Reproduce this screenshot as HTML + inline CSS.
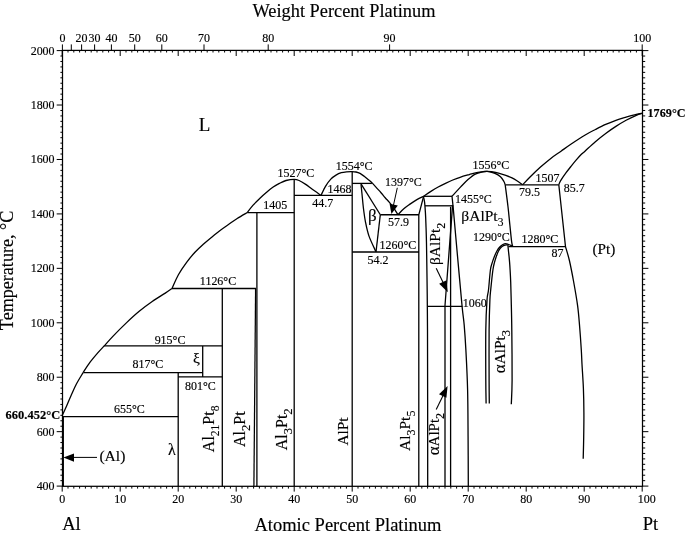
<!DOCTYPE html>
<html><head><meta charset="utf-8"><style>
html,body{margin:0;padding:0;background:#fff;}
svg{display:block;}
body{filter:grayscale(1);}
text{font-family:"Liberation Serif",serif;fill:#000;stroke:#000;stroke-width:0.15px;}
</style></head><body>
<svg width="685" height="536" viewBox="0 0 685 536">
<g stroke="#000" stroke-linecap="butt" fill="none">
<path d="M56.7 486.1H62.5M642.5 486.1H648.4M60.4 480.66H62.5M642.5 480.66H645.2M60.4 475.21H62.5M642.5 475.21H645.2M60.4 469.77H62.5M642.5 469.77H645.2M60.4 464.32H62.5M642.5 464.32H645.2M60.4 458.88H62.5M642.5 458.88H645.2M60.4 453.44H62.5M642.5 453.44H645.2M60.4 447.99H62.5M642.5 447.99H645.2M60.4 442.55H62.5M642.5 442.55H645.2M60.4 437.11H62.5M642.5 437.11H645.2M56.7 431.66H62.5M642.5 431.66H648.4M60.4 426.22H62.5M642.5 426.22H645.2M60.4 420.77H62.5M642.5 420.77H645.2M60.4 415.33H62.5M642.5 415.33H645.2M60.4 409.89H62.5M642.5 409.89H645.2M60.4 404.44H62.5M642.5 404.44H645.2M60.4 399H62.5M642.5 399H645.2M60.4 393.56H62.5M642.5 393.56H645.2M60.4 388.11H62.5M642.5 388.11H645.2M60.4 382.67H62.5M642.5 382.67H645.2M56.7 377.22H62.5M642.5 377.22H648.4M60.4 371.78H62.5M642.5 371.78H645.2M60.4 366.34H62.5M642.5 366.34H645.2M60.4 360.89H62.5M642.5 360.89H645.2M60.4 355.45H62.5M642.5 355.45H645.2M60.4 350H62.5M642.5 350H645.2M60.4 344.56H62.5M642.5 344.56H645.2M60.4 339.12H62.5M642.5 339.12H645.2M60.4 333.67H62.5M642.5 333.67H645.2M60.4 328.23H62.5M642.5 328.23H645.2M56.7 322.79H62.5M642.5 322.79H648.4M60.4 317.34H62.5M642.5 317.34H645.2M60.4 311.9H62.5M642.5 311.9H645.2M60.4 306.45H62.5M642.5 306.45H645.2M60.4 301.01H62.5M642.5 301.01H645.2M60.4 295.57H62.5M642.5 295.57H645.2M60.4 290.12H62.5M642.5 290.12H645.2M60.4 284.68H62.5M642.5 284.68H645.2M60.4 279.24H62.5M642.5 279.24H645.2M60.4 273.79H62.5M642.5 273.79H645.2M56.7 268.35H62.5M642.5 268.35H648.4M60.4 262.9H62.5M642.5 262.9H645.2M60.4 257.46H62.5M642.5 257.46H645.2M60.4 252.02H62.5M642.5 252.02H645.2M60.4 246.57H62.5M642.5 246.57H645.2M60.4 241.13H62.5M642.5 241.13H645.2M60.4 235.69H62.5M642.5 235.69H645.2M60.4 230.24H62.5M642.5 230.24H645.2M60.4 224.8H62.5M642.5 224.8H645.2M60.4 219.35H62.5M642.5 219.35H645.2M56.7 213.91H62.5M642.5 213.91H648.4M60.4 208.47H62.5M642.5 208.47H645.2M60.4 203.02H62.5M642.5 203.02H645.2M60.4 197.58H62.5M642.5 197.58H645.2M60.4 192.13H62.5M642.5 192.13H645.2M60.4 186.69H62.5M642.5 186.69H645.2M60.4 181.25H62.5M642.5 181.25H645.2M60.4 175.8H62.5M642.5 175.8H645.2M60.4 170.36H62.5M642.5 170.36H645.2M60.4 164.92H62.5M642.5 164.92H645.2M56.7 159.47H62.5M642.5 159.47H648.4M60.4 154.03H62.5M642.5 154.03H645.2M60.4 148.58H62.5M642.5 148.58H645.2M60.4 143.14H62.5M642.5 143.14H645.2M60.4 137.7H62.5M642.5 137.7H645.2M60.4 132.25H62.5M642.5 132.25H645.2M60.4 126.81H62.5M642.5 126.81H645.2M60.4 121.37H62.5M642.5 121.37H645.2M60.4 115.92H62.5M642.5 115.92H645.2M60.4 110.48H62.5M642.5 110.48H645.2M56.7 105.03H62.5M642.5 105.03H648.4M60.4 99.59H62.5M642.5 99.59H645.2M60.4 94.15H62.5M642.5 94.15H645.2M60.4 88.7H62.5M642.5 88.7H645.2M60.4 83.26H62.5M642.5 83.26H645.2M60.4 77.82H62.5M642.5 77.82H645.2M60.4 72.37H62.5M642.5 72.37H645.2M60.4 66.93H62.5M642.5 66.93H645.2M60.4 61.48H62.5M642.5 61.48H645.2M60.4 56.04H62.5M642.5 56.04H645.2M56.7 50.6H62.5M642.5 50.6H648.4M62.2 486.3V491.6M62.2 50.4V56M68 486.3V488.6M68 50.4V52.5M73.8 486.3V488.6M73.8 50.4V52.5M79.6 486.3V488.6M79.6 50.4V52.5M85.4 486.3V488.6M85.4 50.4V52.5M91.2 486.3V488.6M91.2 50.4V52.5M97 486.3V488.6M97 50.4V52.5M102.8 486.3V488.6M102.8 50.4V52.5M108.6 486.3V488.6M108.6 50.4V52.5M114.4 486.3V488.6M114.4 50.4V52.5M120.2 486.3V491.6M120.2 50.4V56M126 486.3V488.6M126 50.4V52.5M131.8 486.3V488.6M131.8 50.4V52.5M137.6 486.3V488.6M137.6 50.4V52.5M143.4 486.3V488.6M143.4 50.4V52.5M149.2 486.3V488.6M149.2 50.4V52.5M155 486.3V488.6M155 50.4V52.5M160.8 486.3V488.6M160.8 50.4V52.5M166.6 486.3V488.6M166.6 50.4V52.5M172.4 486.3V488.6M172.4 50.4V52.5M178.2 486.3V491.6M178.2 50.4V56M184 486.3V488.6M184 50.4V52.5M189.8 486.3V488.6M189.8 50.4V52.5M195.6 486.3V488.6M195.6 50.4V52.5M201.4 486.3V488.6M201.4 50.4V52.5M207.2 486.3V488.6M207.2 50.4V52.5M213 486.3V488.6M213 50.4V52.5M218.8 486.3V488.6M218.8 50.4V52.5M224.6 486.3V488.6M224.6 50.4V52.5M230.4 486.3V488.6M230.4 50.4V52.5M236.2 486.3V491.6M236.2 50.4V56M242 486.3V488.6M242 50.4V52.5M247.8 486.3V488.6M247.8 50.4V52.5M253.6 486.3V488.6M253.6 50.4V52.5M259.4 486.3V488.6M259.4 50.4V52.5M265.2 486.3V488.6M265.2 50.4V52.5M271 486.3V488.6M271 50.4V52.5M276.8 486.3V488.6M276.8 50.4V52.5M282.6 486.3V488.6M282.6 50.4V52.5M288.4 486.3V488.6M288.4 50.4V52.5M294.2 486.3V491.6M294.2 50.4V56M300 486.3V488.6M300 50.4V52.5M305.8 486.3V488.6M305.8 50.4V52.5M311.6 486.3V488.6M311.6 50.4V52.5M317.4 486.3V488.6M317.4 50.4V52.5M323.2 486.3V488.6M323.2 50.4V52.5M329 486.3V488.6M329 50.4V52.5M334.8 486.3V488.6M334.8 50.4V52.5M340.6 486.3V488.6M340.6 50.4V52.5M346.4 486.3V488.6M346.4 50.4V52.5M352.2 486.3V491.6M352.2 50.4V56M358 486.3V488.6M358 50.4V52.5M363.8 486.3V488.6M363.8 50.4V52.5M369.6 486.3V488.6M369.6 50.4V52.5M375.4 486.3V488.6M375.4 50.4V52.5M381.2 486.3V488.6M381.2 50.4V52.5M387 486.3V488.6M387 50.4V52.5M392.8 486.3V488.6M392.8 50.4V52.5M398.6 486.3V488.6M398.6 50.4V52.5M404.4 486.3V488.6M404.4 50.4V52.5M410.2 486.3V491.6M410.2 50.4V56M416 486.3V488.6M416 50.4V52.5M421.8 486.3V488.6M421.8 50.4V52.5M427.6 486.3V488.6M427.6 50.4V52.5M433.4 486.3V488.6M433.4 50.4V52.5M439.2 486.3V488.6M439.2 50.4V52.5M445 486.3V488.6M445 50.4V52.5M450.8 486.3V488.6M450.8 50.4V52.5M456.6 486.3V488.6M456.6 50.4V52.5M462.4 486.3V488.6M462.4 50.4V52.5M468.2 486.3V491.6M468.2 50.4V56M474 486.3V488.6M474 50.4V52.5M479.8 486.3V488.6M479.8 50.4V52.5M485.6 486.3V488.6M485.6 50.4V52.5M491.4 486.3V488.6M491.4 50.4V52.5M497.2 486.3V488.6M497.2 50.4V52.5M503 486.3V488.6M503 50.4V52.5M508.8 486.3V488.6M508.8 50.4V52.5M514.6 486.3V488.6M514.6 50.4V52.5M520.4 486.3V488.6M520.4 50.4V52.5M526.2 486.3V491.6M526.2 50.4V56M532 486.3V488.6M532 50.4V52.5M537.8 486.3V488.6M537.8 50.4V52.5M543.6 486.3V488.6M543.6 50.4V52.5M549.4 486.3V488.6M549.4 50.4V52.5M555.2 486.3V488.6M555.2 50.4V52.5M561 486.3V488.6M561 50.4V52.5M566.8 486.3V488.6M566.8 50.4V52.5M572.6 486.3V488.6M572.6 50.4V52.5M578.4 486.3V488.6M578.4 50.4V52.5M584.2 486.3V491.6M584.2 50.4V56M590 486.3V488.6M590 50.4V52.5M595.8 486.3V488.6M595.8 50.4V52.5M601.6 486.3V488.6M601.6 50.4V52.5M607.4 486.3V488.6M607.4 50.4V52.5M613.2 486.3V488.6M613.2 50.4V52.5M619 486.3V488.6M619 50.4V52.5M624.8 486.3V488.6M624.8 50.4V52.5M630.6 486.3V488.6M630.6 50.4V52.5M636.4 486.3V488.6M636.4 50.4V52.5M642.2 486.3V491.6M642.2 50.4V56M62.4 50.4V44.4M71.3 50.4V44.4M81.6 50.4V44.4M94.6 50.4V44.4M111.4 50.4V44.4M134.7 50.4V44.4M161.8 50.4V44.4M204 50.4V44.4M268.2 50.4V44.4M389.6 50.4V44.4M642.2 50.4V44.4" stroke-width="1.0" fill="none"/>
<rect x="62.5" y="50.4" width="580" height="435.9" fill="none" stroke-width="1.25"/>
<line x1="63.3" y1="416.69" x2="63.3" y2="486.3" stroke-width="1.3"/>
<path d="M62.4 415.21 C63.12 413.62 65.23 409.03 66.7 405.7 C68.17 402.37 69.58 398.82 71.2 395.2 C72.82 391.58 74.42 387.77 76.4 384 C78.38 380.23 81.98 374.5 83.1 372.6" stroke-width="1.3" fill="none"/>
<path d="M83.1 372.6 C84.23 370.9 87.53 365.6 89.9 362.4 C92.27 359.2 94.92 356.15 97.3 353.4 C99.68 350.65 103.05 347.17 104.2 345.92" stroke-width="1.3" fill="none"/>
<path d="M104.2 345.92 C105.68 344.29 109.45 339.9 113.1 336.1 C116.75 332.3 121.75 327.23 126.1 323.1 C130.45 318.97 134.85 314.9 139.2 311.3 C143.55 307.7 147.85 304.53 152.2 301.5 C156.55 298.47 162 295.27 165.3 293.1 C168.6 290.93 170.88 289.26 172 288.49" stroke-width="1.3" fill="none"/>
<path d="M172 288.49 C173.07 286.19 175.93 279.1 178.4 274.7 C180.87 270.3 184 265.88 186.8 262.1 C189.6 258.32 192.4 255.02 195.2 252 C198 248.98 200.8 246.52 203.6 244 C206.4 241.48 209.2 239.2 212 236.9 C214.8 234.6 217.6 232.3 220.4 230.2 C223.2 228.1 226 226.25 228.8 224.3 C231.6 222.35 234.13 220.46 237.2 218.5 C240.27 216.54 245.53 213.54 247.2 212.55" stroke-width="1.3" fill="none"/>
<path d="M247.2 212.55 C248.18 211.31 251.02 207.44 253.1 205.1 C255.18 202.76 257.5 200.58 259.7 198.5 C261.9 196.42 264.12 194.47 266.3 192.6 C268.48 190.73 270.62 188.83 272.8 187.3 C274.98 185.77 277.2 184.53 279.4 183.4 C281.6 182.27 283.53 181.18 286 180.5 C288.47 179.82 292.02 179.3 294.2 179.3 C296.38 179.3 297.18 179.65 299.1 180.5 C301.02 181.35 303.5 182.93 305.7 184.4 C307.9 185.87 309.75 187.47 312.3 189.3 C314.85 191.13 319.55 194.38 321 195.4" stroke-width="1.3" fill="none"/>
<path d="M321 195.4 C321.75 193.88 323.87 189.02 325.5 186.3 C327.13 183.58 329.05 180.97 330.8 179.1 C332.55 177.23 334.25 176.17 336 175.1 C337.75 174.03 339.55 173.25 341.3 172.7 C343.05 172.15 344.68 171.98 346.5 171.8 C348.32 171.62 350.62 171.57 352.2 171.6 C353.78 171.63 354.7 171.7 356 172 C357.3 172.3 358.63 172.68 360 173.4 C361.37 174.12 362.8 175.25 364.2 176.3 C365.6 177.35 367 178.52 368.4 179.7 C369.8 180.88 371.2 182 372.6 183.4 C374 184.8 375.4 186.55 376.8 188.1 C378.2 189.65 379.6 191.1 381 192.7 C382.4 194.3 383.8 196.08 385.2 197.7 C386.6 199.32 388.02 200.75 389.4 202.4 C390.78 204.05 392.07 205.55 393.5 207.6 C394.93 209.65 397.25 213.54 398 214.73" stroke-width="1.3" fill="none"/>
<path d="M398 214.73 C398.97 213.74 401.87 210.52 403.8 208.8 C405.73 207.08 407.42 205.93 409.6 204.4 C411.78 202.87 414.57 200.95 416.9 199.6 C419.23 198.25 422.48 196.85 423.6 196.3" stroke-width="1.3" fill="none"/>
<path d="M423.6 196.2 C424.82 195.4 428.47 192.93 430.9 191.4 C433.33 189.87 435.77 188.35 438.2 187 C440.63 185.65 443.07 184.47 445.5 183.3 C447.93 182.13 450.37 181 452.8 180 C455.23 179 457.35 178.2 460.1 177.3 C462.85 176.4 466.55 175.38 469.3 174.6 C472.05 173.82 474.17 173.12 476.6 172.6 C479.03 172.08 482.08 171.72 483.9 171.5 C485.72 171.28 486.28 171.27 487.5 171.3 C488.72 171.33 489.37 171.4 491.2 171.7 C493.03 172 496.07 172.48 498.5 173.1 C500.93 173.72 503.55 174.6 505.8 175.4 C508.05 176.2 510.08 176.97 512 177.9 C513.92 178.83 515.53 179.85 517.3 181 C519.07 182.15 521.72 184.15 522.6 184.79" stroke-width="1.3" fill="none"/>
<path d="M522.6 184.79 C523.88 183.45 527.32 179.75 530.3 176.8 C533.28 173.85 537.08 170.17 540.5 167.1 C543.92 164.03 547.38 161.05 550.8 158.4 C554.22 155.75 557.6 153.6 561 151.2 C564.4 148.8 567.17 146.7 571.2 144 C575.23 141.3 581.17 137.42 585.2 135 C589.23 132.58 591.98 131.27 595.4 129.5 C598.82 127.73 602.28 125.93 605.7 124.4 C609.12 122.87 612.5 121.5 615.9 120.3 C619.3 119.1 622.7 118.18 626.1 117.2 C629.5 116.22 633.62 115.05 636.3 114.4 C638.98 113.75 641.22 113.48 642.2 113.3" stroke-width="1.3" fill="none"/>
<path d="M558.8 184.79 C559.08 184.14 559.28 182.91 560.5 180.9 C561.72 178.89 564.32 175.17 566.1 172.7 C567.88 170.23 569.5 168.23 571.2 166.1 C572.9 163.97 574.6 161.87 576.3 159.9 C578 157.93 579.92 155.8 581.4 154.3 C582.88 152.8 582.87 153 585.2 150.9 C587.53 148.8 591.98 144.6 595.4 141.7 C598.82 138.8 602.28 136.05 605.7 133.5 C609.12 130.95 612.5 128.6 615.9 126.4 C619.3 124.2 622.7 122.15 626.1 120.3 C629.5 118.45 633.62 116.47 636.3 115.3 C638.98 114.13 641.22 113.63 642.2 113.3" stroke-width="1.3" fill="none"/>
<line x1="62.2" y1="416.69" x2="178.2" y2="416.69" stroke-width="1.3"/>
<line x1="83.5" y1="372.6" x2="202.7" y2="372.6" stroke-width="1.3"/>
<line x1="103.9" y1="345.92" x2="222.3" y2="345.92" stroke-width="1.3"/>
<line x1="178.2" y1="376.95" x2="222.3" y2="376.95" stroke-width="1.3"/>
<line x1="172" y1="288.49" x2="256" y2="288.49" stroke-width="1.3"/>
<line x1="247.3" y1="212.55" x2="294.2" y2="212.55" stroke-width="1.3"/>
<line x1="294.2" y1="195.4" x2="352.2" y2="195.4" stroke-width="1.3"/>
<line x1="352.2" y1="183.4" x2="371.9" y2="183.4" stroke-width="1.3"/>
<line x1="380.3" y1="214.73" x2="419" y2="214.73" stroke-width="1.3"/>
<line x1="352.2" y1="252.02" x2="419" y2="252.02" stroke-width="1.3"/>
<line x1="423.4" y1="196.3" x2="452" y2="196.3" stroke-width="1.3"/>
<line x1="425" y1="205.8" x2="453" y2="205.8" stroke-width="1.3"/>
<line x1="427.6" y1="306.45" x2="462.4" y2="306.45" stroke-width="1.3"/>
<line x1="505.2" y1="184.79" x2="558.8" y2="184.79" stroke-width="1.3"/>
<line x1="508.4" y1="246.57" x2="565.5" y2="246.57" stroke-width="1.3"/>
<line x1="178.2" y1="372.6" x2="178.2" y2="486.3" stroke-width="1.3"/>
<line x1="202.7" y1="345.92" x2="202.7" y2="376.95" stroke-width="1.3"/>
<line x1="222.3" y1="288.49" x2="222.3" y2="486.3" stroke-width="1.3"/>
<line x1="256.9" y1="212.55" x2="256.9" y2="486.3" stroke-width="1.3"/>
<line x1="255.6" y1="288.49" x2="253.9" y2="486.3" stroke-width="1.25"/>
<line x1="294.2" y1="179.34" x2="294.2" y2="486.3" stroke-width="1.3"/>
<line x1="352.2" y1="171.99" x2="352.2" y2="486.3" stroke-width="1.3"/>
<path d="M361 184.3 C361.17 185.92 361.6 190.05 362 194 C362.4 197.95 362.82 203.32 363.4 208 C363.98 212.68 364.57 217.42 365.5 222.1 C366.43 226.78 367.27 231.18 369 236.1 C370.73 241.02 374.75 249.02 375.9 251.6" stroke-width="1.3" fill="none"/>
<line x1="361.2" y1="184.2" x2="380.3" y2="214.73" stroke-width="1.3"/>
<line x1="380.3" y1="214.73" x2="376" y2="252.02" stroke-width="1.3"/>
<path d="M423.6 196.3 L418.8 214.73 L418.8 486.3" stroke-width="1.3" fill="none"/>
<path d="M423.4 196.3 C423.6 197.3 424.27 199.62 424.6 202.3 C424.93 204.98 425.18 208.85 425.4 212.4 C425.62 215.95 425.7 217.33 425.9 223.6 C426.1 229.87 426.33 232.27 426.6 250 C426.87 267.73 427.32 290.62 427.5 330 C427.68 369.38 427.67 460.25 427.7 486.3" stroke-width="1.3" fill="none"/>
<line x1="452" y1="196.3" x2="453" y2="205.8" stroke-width="1.3"/>
<path d="M452.6 205.4 L445.0 305.4 L445.0 486.3" stroke-width="1.3" fill="none"/>
<line x1="450.6" y1="206.8" x2="450.6" y2="486.3" stroke-width="1.3"/>
<path d="M453 205.4 C453.75 213.83 455.98 239.16 457.5 256 C459.02 272.84 460.98 294.94 462.1 306.45 C463.22 317.97 463.57 317.79 464.2 325.1 C464.83 332.41 465.33 339.52 465.9 350.3 C466.47 361.08 467.23 374.85 467.6 389.8 C467.97 404.75 467.98 423.92 468.1 440 C468.22 456.08 468.27 478.58 468.3 486.3" stroke-width="1.3" fill="none"/>
<path d="M452 196.3 C453.45 194.73 458.03 189.68 460.7 186.9 C463.37 184.12 465.57 181.73 468 179.6 C470.43 177.47 472.87 175.38 475.3 174.1 C477.73 172.82 480.57 172.35 482.6 171.9 C484.63 171.45 486.68 171.48 487.5 171.4" stroke-width="1.3" fill="none"/>
<path d="M487.5 171.4 C488.73 171.73 492.73 172.5 494.9 173.4 C497.07 174.3 499 175.45 500.5 176.8 C502 178.15 503.12 180.17 503.9 181.5 C504.68 182.83 504.98 184.24 505.2 184.79" stroke-width="1.3" fill="none"/>
<path d="M505.2 184.79 C505.67 188.44 507.22 199.95 508 206.7 C508.78 213.45 509.28 219.38 509.9 225.3 C510.52 231.22 511.22 238.65 511.7 242.2 C512.18 245.75 512.62 245.84 512.8 246.57" stroke-width="1.3" fill="none"/>
<path d="M486.1 403.4 C486.05 399.5 485.85 392.23 485.8 380 C485.75 367.77 485.6 343.33 485.8 330 C486 316.67 486.55 306.67 487 300 C487.45 293.33 487.93 295 488.5 290 C489.07 285 489.77 274.6 490.4 270 C491.03 265.4 491.62 264.7 492.3 262.4 C492.98 260.1 493.75 258.07 494.5 256.2 C495.25 254.33 495.97 252.68 496.8 251.2 C497.63 249.72 498.48 248.42 499.5 247.3 C500.52 246.18 501.87 245.12 502.9 244.5 C503.93 243.88 504.77 243.6 505.7 243.6 C506.63 243.6 507.57 244.17 508.5 244.5 C509.43 244.83 510.58 245.28 511.3 245.6 C512.02 245.92 512.55 246.27 512.8 246.4" stroke-width="1.3" fill="none"/>
<path d="M489.3 403.4 C489.27 399.5 489.13 392.23 489.1 380 C489.07 367.77 488.97 343.33 489.1 330 C489.23 316.67 489.63 306.67 489.9 300 C490.17 293.33 490.2 295 490.7 290 C491.2 285 492.27 274.6 492.9 270 C493.53 265.4 493.95 264.6 494.5 262.4 C495.05 260.2 495.55 258.67 496.2 256.8 C496.85 254.93 497.65 252.7 498.4 251.2 C499.15 249.7 499.85 248.73 500.7 247.8 C501.55 246.87 502.48 246.1 503.5 245.6 C504.52 245.1 505.97 244.83 506.8 244.8 C507.63 244.77 508.22 245.3 508.5 245.4" stroke-width="1.3" fill="none"/>
<path d="M507.9 245.4 C508 246.37 508.3 249.3 508.5 251.2 C508.7 253.1 508.92 254.93 509.1 256.8 C509.28 258.67 509.43 260.2 509.6 262.4 C509.77 264.6 509.92 266.73 510.1 270 C510.28 273.27 510.52 277 510.7 282 C510.88 287 511.02 292 511.2 300 C511.38 308 511.65 316.67 511.8 330 C511.95 343.33 512.18 367.63 512.1 380 C512.02 392.37 511.43 400.17 511.3 404.2" stroke-width="1.3" fill="none"/>
<path d="M558.8 184.79 L565.5 246.57 C566.15 248.89 568.07 254.76 569.4 260.5 C570.73 266.24 572.13 273.48 573.5 281 C574.87 288.52 576.58 298.07 577.6 305.6 C578.62 313.13 578.98 318.8 579.6 326.2 C580.22 333.6 580.9 343.67 581.3 350 C581.7 356.33 581.65 357.78 582 364.2 C582.35 370.62 583.08 380.42 583.4 388.5 C583.72 396.58 583.85 404.62 583.9 412.7 C583.95 420.78 583.82 429.32 583.7 437 C583.58 444.68 583.28 455.17 583.2 458.8" stroke-width="1.3" fill="none"/>
<line x1="72.7" y1="457.4" x2="97" y2="457.4" stroke-width="1"/>
<path d="M63.4 457.6 L74 453.4 L74 461.8 Z" fill="#000" stroke="none"/>
<line x1="397.3" y1="187.8" x2="393.3" y2="206" stroke-width="1"/>
<path d="M391.4 214.0 L389.6 203.8 L397.8 205.6 Z" fill="#000" stroke="none"/>
<line x1="436.2" y1="268.2" x2="443.6" y2="283.5" stroke-width="1.1"/>
<path d="M447.8 292.2 L439.2 283.8 L446.6 280.3 Z" fill="#000" stroke="none"/>
<line x1="436.2" y1="409.6" x2="443.2" y2="395.2" stroke-width="1.1"/>
<path d="M447.6 386.1 L446.4 397.7 L439.0 394.2 Z" fill="#000" stroke="none"/>
</g>
<g>
<text transform="translate(54.6 490.1) scale(1 1.07)" font-size="12" text-anchor="end">400</text>
<text transform="translate(54.6 435.66) scale(1 1.07)" font-size="12" text-anchor="end">600</text>
<text transform="translate(54.6 381.22) scale(1 1.07)" font-size="12" text-anchor="end">800</text>
<text transform="translate(54.6 326.79) scale(1 1.07)" font-size="12" text-anchor="end">1000</text>
<text transform="translate(54.6 272.35) scale(1 1.07)" font-size="12" text-anchor="end">1200</text>
<text transform="translate(54.6 217.91) scale(1 1.07)" font-size="12" text-anchor="end">1400</text>
<text transform="translate(54.6 163.47) scale(1 1.07)" font-size="12" text-anchor="end">1600</text>
<text transform="translate(54.6 109.03) scale(1 1.07)" font-size="12" text-anchor="end">1800</text>
<text transform="translate(54.6 54.6) scale(1 1.07)" font-size="12" text-anchor="end">2000</text>
<text transform="translate(62.2 502.6) scale(1 1.07)" font-size="12" text-anchor="middle">0</text>
<text transform="translate(120.2 502.6) scale(1 1.07)" font-size="12" text-anchor="middle">10</text>
<text transform="translate(178.2 502.6) scale(1 1.07)" font-size="12" text-anchor="middle">20</text>
<text transform="translate(236.2 502.6) scale(1 1.07)" font-size="12" text-anchor="middle">30</text>
<text transform="translate(294.2 502.6) scale(1 1.07)" font-size="12" text-anchor="middle">40</text>
<text transform="translate(352.2 502.6) scale(1 1.07)" font-size="12" text-anchor="middle">50</text>
<text transform="translate(410.2 502.6) scale(1 1.07)" font-size="12" text-anchor="middle">60</text>
<text transform="translate(468.2 502.6) scale(1 1.07)" font-size="12" text-anchor="middle">70</text>
<text transform="translate(526.2 502.6) scale(1 1.07)" font-size="12" text-anchor="middle">80</text>
<text transform="translate(584.2 502.6) scale(1 1.07)" font-size="12" text-anchor="middle">90</text>
<text transform="translate(646.8 502.6) scale(1 1.07)" font-size="12" text-anchor="middle">100</text>
<text transform="translate(62.4 42) scale(1 1.07)" font-size="12" text-anchor="middle">0</text>
<text transform="translate(81.6 42) scale(1 1.07)" font-size="12" text-anchor="middle">20</text>
<text transform="translate(94.6 42) scale(1 1.07)" font-size="12" text-anchor="middle">30</text>
<text transform="translate(111.4 42) scale(1 1.07)" font-size="12" text-anchor="middle">40</text>
<text transform="translate(134.7 42) scale(1 1.07)" font-size="12" text-anchor="middle">50</text>
<text transform="translate(161.8 42) scale(1 1.07)" font-size="12" text-anchor="middle">60</text>
<text transform="translate(204 42) scale(1 1.07)" font-size="12" text-anchor="middle">70</text>
<text transform="translate(268.2 42) scale(1 1.07)" font-size="12" text-anchor="middle">80</text>
<text transform="translate(389.6 42) scale(1 1.07)" font-size="12" text-anchor="middle">90</text>
<text transform="translate(642.2 42) scale(1 1.07)" font-size="12" text-anchor="middle">100</text>
<text x="344" y="16.8" font-size="18.35" text-anchor="middle">Weight Percent Platinum</text>
<text x="348" y="530.8" font-size="18.5" text-anchor="middle">Atomic Percent Platinum</text>
<text x="71.5" y="529.8" font-size="18.5" text-anchor="middle">Al</text>
<text x="650.5" y="530.3" font-size="18.5" text-anchor="middle">Pt</text>
<text x="12.8" y="270.4" font-size="18.1" text-anchor="middle" transform="rotate(-90 12.8 270.4)">Temperature, °C</text>
<text transform="translate(5.6 418.9) scale(1 1.07)" font-size="12.5" text-anchor="start" font-weight="bold">660.452°C</text>
<text transform="translate(647.5 116.9) scale(1 1.07)" font-size="12.2" text-anchor="start" font-weight="bold">1769°C</text>
<text x="204.5" y="130.9" font-size="19" text-anchor="middle">L</text>
<text x="99.4" y="461" font-size="15.6" text-anchor="start">(Al)</text>
<text x="592.5" y="253.7" font-size="15.3" text-anchor="start">(Pt)</text>
<text transform="translate(129.3 412.5) scale(1 1.07)" font-size="12" text-anchor="middle">655°C</text>
<text transform="translate(147.8 368.4) scale(1 1.07)" font-size="12" text-anchor="middle">817°C</text>
<text transform="translate(170 343.7) scale(1 1.07)" font-size="12" text-anchor="middle">915°C</text>
<text transform="translate(200.3 390.3) scale(1 1.07)" font-size="12" text-anchor="middle">801°C</text>
<text transform="translate(218 284.7) scale(1 1.07)" font-size="12" text-anchor="middle">1126°C</text>
<text transform="translate(275.3 208.8) scale(1 1.07)" font-size="12" text-anchor="middle">1405</text>
<text transform="translate(296 176.8) scale(1 1.07)" font-size="12" text-anchor="middle">1527°C</text>
<text transform="translate(322.7 206.6) scale(1 1.07)" font-size="12" text-anchor="middle">44.7</text>
<text transform="translate(339.6 192.6) scale(1 1.07)" font-size="12" text-anchor="middle">1468</text>
<text transform="translate(354.2 169.7) scale(1 1.07)" font-size="12" text-anchor="middle">1554°C</text>
<text transform="translate(403.3 186.2) scale(1 1.07)" font-size="12" text-anchor="middle">1397°C</text>
<text transform="translate(398.5 225.7) scale(1 1.07)" font-size="12" text-anchor="middle">57.9</text>
<text transform="translate(398 248.5) scale(1 1.07)" font-size="12" text-anchor="middle">1260°C</text>
<text transform="translate(378.1 263.6) scale(1 1.07)" font-size="12" text-anchor="middle">54.2</text>
<text transform="translate(473.3 202.7) scale(1 1.07)" font-size="12" text-anchor="middle">1455°C</text>
<text transform="translate(490.8 169.1) scale(1 1.07)" font-size="12" text-anchor="middle">1556°C</text>
<text transform="translate(491.3 240.7) scale(1 1.07)" font-size="12" text-anchor="middle">1290°C</text>
<text transform="translate(539.9 243) scale(1 1.07)" font-size="12" text-anchor="middle">1280°C</text>
<text transform="translate(529.6 196.4) scale(1 1.07)" font-size="12" text-anchor="middle">79.5</text>
<text transform="translate(547.5 182.2) scale(1 1.07)" font-size="12" text-anchor="middle">1507</text>
<text transform="translate(574.2 192.4) scale(1 1.07)" font-size="12" text-anchor="middle">85.7</text>
<text transform="translate(557.4 256.5) scale(1 1.07)" font-size="12" text-anchor="middle">87</text>
<text transform="translate(474.7 307.1) scale(1 1.07)" font-size="12" text-anchor="middle">1060</text>
<text x="372.4" y="221.3" font-size="17" text-anchor="middle">β</text>
<text x="196.5" y="363" font-size="15.5" text-anchor="middle">ξ</text>
<text x="171.9" y="455" font-size="16" text-anchor="middle">λ</text>
<text x="482.4" y="221.2" font-size="15.5" text-anchor="middle">βAlPt<tspan font-size="11.5" dy="4.6">3</tspan></text>
<text x="214" y="428.85" font-size="16" text-anchor="middle" transform="rotate(-90 214 428.85)">Al<tspan font-size="11.5" dy="4.7">21</tspan><tspan dy="-4.7">Pt</tspan><tspan font-size="11.5" dy="4.7">8</tspan></text>
<text x="244.8" y="429.2" font-size="16" text-anchor="middle" transform="rotate(-90 244.8 429.2)">Al<tspan font-size="12.5" dy="5.2">2</tspan><tspan dy="-5.2">Pt</tspan></text>
<text x="286.8" y="429.3" font-size="16" text-anchor="middle" transform="rotate(-90 286.8 429.3)">Al<tspan font-size="12.5" dy="5.1">3</tspan><tspan dy="-5.1">Pt</tspan><tspan font-size="12.5" dy="5.1">2</tspan></text>
<text x="347.9" y="431.4" font-size="15.3" text-anchor="middle" transform="rotate(-90 347.9 431.4)">AlPt</text>
<text x="409.9" y="430.8" font-size="15.5" text-anchor="middle" transform="rotate(-90 409.9 430.8)">Al<tspan font-size="12" dy="5.1">3</tspan><tspan dy="-5.1">Pt</tspan><tspan font-size="12" dy="5.1">5</tspan></text>
<text x="439" y="434.1" font-size="15" text-anchor="middle" transform="rotate(-90 439 434.1)"><tspan font-size="17">α</tspan>AlPt<tspan font-size="12" dy="5.4">2</tspan></text>
<text x="440.2" y="243.9" font-size="15.5" text-anchor="middle" transform="rotate(-90 440.2 243.9)">βAlPt<tspan font-size="12" dy="4.9">2</tspan></text>
<text x="504.6" y="351.5" font-size="15.3" text-anchor="middle" transform="rotate(-90 504.6 351.5)"><tspan font-size="17">α</tspan>AlPt<tspan font-size="12.5" dy="5.2">3</tspan></text>
</g>
</svg>
</body></html>
